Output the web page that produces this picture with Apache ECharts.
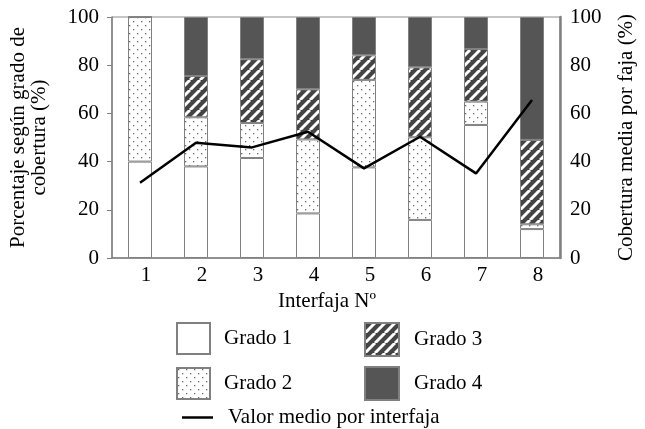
<!DOCTYPE html>
<html>
<head>
<meta charset="utf-8">
<script src="https://cdn.jsdelivr.net/npm/echarts@6/dist/echarts.min.js"></script>
<style>
  html, body { margin: 0; padding: 0; background: #fff; }
  #chart { width: 645px; height: 429px; }
</style>
</head>
<body>
<div id="chart"></div>
<script>
var categories = ['1', '2', '3', '4', '5', '6', '7', '8'];
var grado1 = [40, 38, 41.5, 18.5, 37.6, 15.8, 55.2, 12];
var grado2 = [60, 20.4, 14.5, 30.7, 36.3, 34.3, 9.7, 2];
var grado3 = [0, 17.1, 26.5, 20.8, 10.2, 29, 21.8, 35];
var grado4 = [0, 24.5, 17.5, 30, 15.9, 20.9, 13.3, 51];
var valorMedio = [31.2, 47.8, 45.9, 52.4, 37.2, 50.3, 35.1, 65.6];

var font = 'Liberation Serif';
var fs = 21;

// patrones de relleno
function dotPattern() {
    var c = document.createElement('canvas');
    c.width = 8; c.height = 8;
    var ctx = c.getContext('2d');
    ctx.fillStyle = '#fff';
    ctx.fillRect(0, 0, 8, 8);
    ctx.fillStyle = '#666';
    ctx.fillRect(1, 1, 1.3, 1.3);
    ctx.fillRect(5, 5, 1.3, 1.3);
    return c;
}
function stripePattern() {
    var c = document.createElement('canvas');
    c.width = 10; c.height = 10;
    var ctx = c.getContext('2d');
    ctx.fillStyle = '#444';
    ctx.fillRect(0, 0, 10, 10);
    ctx.strokeStyle = '#fff';
    ctx.lineWidth = 3;
    for (var k = -10; k <= 10; k += 10) {
        ctx.beginPath();
        ctx.moveTo(k, 10);
        ctx.lineTo(k + 10, 0);
        ctx.stroke();
    }
    return c;
}

var chart = echarts.init(document.getElementById('chart'));
var barBorder = { borderColor: '#808080', borderWidth: 1 };

function barSeries(name, data, color) {
    return {
        name: name,
        type: 'bar',
        stack: 'total',
        barWidth: 24,
        data: data,
        itemStyle: Object.assign({ color: color }, barBorder)
    };
}

function legendText(pad) {
    return { fontFamily: font, fontSize: fs, color: '#000', padding: [0, 0, 0, pad] };
}

var option = {
    animation: false,
    textStyle: { fontFamily: font },
    grid: {
        left: 112, right: 83, top: 17, bottom: 171,
        show: true, borderColor: '#8a8a8a', borderWidth: 1
    },
    legend: [{
        data: ['Grado 1', 'Grado 2'],
        icon: 'rect',
        orient: 'vertical', left: 171, top: 317,
        itemWidth: 33, itemHeight: 31, itemGap: 12,
        textStyle: legendText(9)
    }, {
        data: ['Grado 3', 'Grado 4'],
        icon: 'rect',
        orient: 'vertical', left: 359, top: 317,
        itemWidth: 34, itemHeight: 33, itemGap: 9,
        textStyle: legendText(10)
    }, {
        data: ['Valor medio por interfaja'],
        icon: 'rect',
        left: 177, top: 402,
        itemWidth: 31, itemHeight: 2.5,
        itemStyle: { color: '#000' },
        textStyle: legendText(10)
    }],
    xAxis: {
        type: 'category',
        data: categories,
        name: 'Interfaja Nº',
        nameLocation: 'middle',
        nameGap: 28,
        nameTextStyle: { fontFamily: font, fontSize: fs, color: '#000', padding: [0, 18, 0, 0] },
        axisLine: { lineStyle: { color: '#808080', width: 1.5 } },
        axisTick: { length: 5, lineStyle: { color: '#808080' } },
        axisLabel: { fontFamily: font, fontSize: fs, color: '#000', margin: 7, padding: [0, 0, 0, 12] }
    },
    yAxis: [{
        type: 'value', min: 0, max: 100, interval: 20,
        name: 'Porcentaje según grado de\ncobertura (%)',
        nameLocation: 'middle',
        nameGap: 62,
        nameTextStyle: { fontFamily: font, fontSize: fs, color: '#000', lineHeight: 21 },
        axisLine: { show: true, lineStyle: { color: '#808080', width: 1.5 } },
        axisTick: { show: true, length: 5, lineStyle: { color: '#808080' } },
        axisLabel: { fontFamily: font, fontSize: fs, color: '#000', margin: 13 },
        splitLine: { show: false }
    }, {
        type: 'value', min: 0, max: 100, interval: 20,
        name: 'Cobertura media por faja (%)',
        nameLocation: 'middle',
        nameGap: 56,
        nameTextStyle: { fontFamily: font, fontSize: fs, color: '#000' },
        axisLine: { show: true, lineStyle: { color: '#808080', width: 2.5 } },
        axisTick: { show: false },
        axisLabel: { fontFamily: font, fontSize: fs, color: '#000', margin: 10 },
        splitLine: { show: false }
    }],
    series: [
        barSeries('Grado 1', grado1, '#fff'),
        barSeries('Grado 2', grado2, { image: dotPattern(), repeat: 'repeat' }),
        barSeries('Grado 3', grado3, { image: stripePattern(), repeat: 'repeat' }),
        barSeries('Grado 4', grado4, '#555'),
        {
            name: 'Valor medio por interfaja',
            type: 'line',
            yAxisIndex: 1,
            data: valorMedio,
            symbol: 'none',
            lineStyle: { color: '#000', width: 2.5 },
            itemStyle: { color: '#000' }
        }
    ]
};
chart.setOption(option);
</script>
</body>
</html>
